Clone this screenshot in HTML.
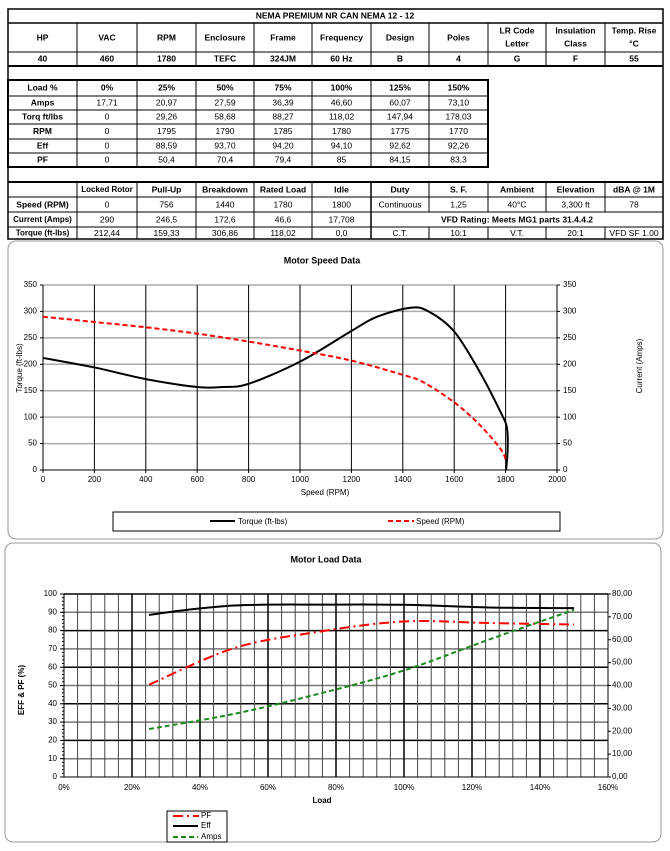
<!DOCTYPE html>
<html><head><meta charset="utf-8"><style>
html,body{margin:0;padding:0;background:#fff;}
svg{display:block;font-family:"Liberation Sans",sans-serif;}
</style></head><body>
<svg id="s" width="670" height="851" viewBox="0 0 670 851" xmlns="http://www.w3.org/2000/svg"></svg>
<script>
const S=document.getElementById('s');let h='';
function L(x1,y1,x2,y2,c,w,d){h+=`<line x1="${x1}" y1="${y1}" x2="${x2}" y2="${y2}" stroke="${c||'#000'}" stroke-width="${w||1}"${d?` stroke-dasharray="${d}"`:''}/>`;}
function T(x,y,t,o){o=o||{};h+=`<text x="${x}" y="${y}" font-size="${o.s||8.5}" ${o.b?'font-weight="bold"':''} text-anchor="${o.a||'middle'}" dominant-baseline="middle"${o.r?` transform="rotate(-90 ${x} ${y})"`:''}>${t}</text>`;}
// ---------- TABLE ----------
const C=[8,77,137,196,254,312,371,429,488,546,605,663];
function cx(i){return (C[i]+C[i+1])/2;}
h+=`<rect x="8" y="9" width="655" height="230" fill="none" stroke="#000" stroke-width="1.5"/>`;
L(8,23,663,23,'#000',1.5);L(8,52,663,52);L(8,66,663,66,'#000',2);
T(335,16,'NEMA PREMIUM NR CAN NEMA 12 - 12',{b:1});
for(let i=1;i<11;i++)L(C[i],23,C[i],66);
const hd=['HP','VAC','RPM','Enclosure','Frame','Frequency','Design','Poles',['LR Code','Letter'],['Insulation','Class'],['Temp. Rise','°C']];
const vl=['40','460','1780','TEFC','324JM','60 Hz','B','4','G','F','55'];
hd.forEach((t,i)=>{if(Array.isArray(t)){T(cx(i),31,t[0],{b:1});T(cx(i),44,t[1],{b:1});}else T(cx(i),38,t,{b:1});T(cx(i),59,vl[i],{b:1});});
const R2=[80,96,110,124,139,153,167];
h+=`<rect x="8" y="80" width="480" height="87" fill="none" stroke="#000" stroke-width="2"/>`;
R2.slice(1,6).forEach(y=>L(8,y,488,y));
for(let i=1;i<8;i++)L(C[i],80,C[i],167);
const b2=[['Load %','0%','25%','50%','75%','100%','125%','150%'],['Amps','17,71','20,97','27,59','36,39','46,60','60,07','73,10'],['Torq ft/lbs','0','29,26','58,68','88,27','118,02','147,94','178,03'],['RPM','0','1795','1790','1785','1780','1775','1770'],['Eff','0','88,59','93,70','94,20','94,10','92,62','92,26'],['PF','0','50,4','70,4','79,4','85','84,15','83,3']];
b2.forEach((r,j)=>{const y=(R2[j]+R2[j+1])/2;r.forEach((t,i)=>T(cx(i),y,t,{b:(i==0||j==0)}));});
L(8,182,663,182,'#000',2);
const R3=[182,197,212,227,239];
[197,212,227].forEach(y=>L(8,y,663,y));
L(371,182,371,239,'#000',1.5);
for(let i=1;i<11;i++){if(i==6)continue; if(i>6){L(C[i],182,C[i],212);L(C[i],227,C[i],239);}else L(C[i],182,C[i],239);}
const b3=[['','Locked Rotor','Pull-Up','Breakdown','Rated Load','Idle','Duty','S. F.','Ambient','Elevation','dBA @ 1M'],
['Speed (RPM)','0','756','1440','1780','1800','Continuous','1,25','40°C','3,300 ft','78'],
['Current (Amps)','290','246,5','172,6','46,6','17,708'],
['Torque (ft-lbs)','212,44','159,33','306,86','118,02','0,0','C.T.','10:1','V.T.','20:1','VFD SF 1.00']];
b3.forEach((r,j)=>{const y=(R3[j]+R3[j+1])/2+0.5;r.forEach((t,i)=>T(cx(i),y,t,{b:(i==0||j==0),s:(t.length>11?8:8.5)}));});
T(517,220,'VFD Rating: Meets MG1 parts 31.4.4.2',{b:1});
function P(pts){let d=`M${pts[0][0]},${pts[0][1]}`;for(let i=0;i<pts.length-1;i++){const p0=pts[i-1]||pts[i],p1=pts[i],p2=pts[i+1],p3=pts[i+2]||p2;d+=` C${p1[0]+(p2[0]-p0[0])/6},${p1[1]+(p2[1]-p0[1])/6} ${p2[0]-(p3[0]-p1[0])/6},${p2[1]-(p3[1]-p1[1])/6} ${p2[0]},${p2[1]}`;}return d;}
// ---------- CHART 1 ----------
h+=`<rect x="8" y="241" width="655" height="298" rx="8" fill="#fff" stroke="#999" stroke-width="1"/>`;
T(322,261,'Motor Speed Data',{b:1,s:9});
const X1=s=>43+s*0.257,Y1=v=>470-v*185/350;
for(let v=50;v<=350;v+=50)L(43,Y1(v),557,Y1(v),'#aaa',1.5);
for(let s=200;s<=1800;s+=200)L(X1(s),285,X1(s),470,'#000',1);
L(43,285,43,470);L(557,285,557,470);L(43,470,557,470);
for(let v=0;v<=350;v+=50){T(37,Y1(v),v,{a:'end',s:8});T(563,Y1(v),v,{a:'start',s:8});L(40,Y1(v),43,Y1(v));L(557,Y1(v),560,Y1(v));}
for(let s=0;s<=2000;s+=200){T(X1(s),480,s,{s:8});L(X1(s),470,X1(s),473);}
T(325,493,'Speed (RPM)',{s:8});
T(20,368,'Torque (ft-lbs)',{s:8,r:1});T(640,366,'Current (Amps)',{s:8,r:1});
const tq=[[0,212],[200,194],[400,172],[600,157],[700,157],[800,163],[1000,205],[1200,263],[1300,290],[1430,307],[1500,300],[1600,262],[1700,185],[1780,110],[1805,80],[1808,40],[1802,0]];
const sp=[[0,290],[200,280],[400,270],[600,258],[800,243],[1000,226],[1200,207],[1400,180],[1480,166],[1600,128],[1700,85],[1780,40],[1800,20]];
h+=`<path d="${P(tq.map(p=>[X1(p[0]),Y1(p[1])]))}" fill="none" stroke="#000" stroke-width="2"/>`;
h+=`<path d="${P(sp.map(p=>[X1(p[0]),Y1(p[1])]))}" fill="none" stroke="#f00" stroke-width="2" stroke-dasharray="5,3"/>`;
h+=`<rect x="113" y="512" width="447" height="19" fill="#fff" stroke="#000" stroke-width="1"/>`;
L(210,521,235,521,'#000',2);T(238,522,'Torque (ft-lbs)',{a:'start',s:8});
L(388,521,414,521,'#f00',2,'5,3');T(416,522,'Speed (RPM)',{a:'start',s:8});
// ---------- CHART 2 ----------
h+=`<rect x="5" y="543" width="656" height="299" rx="8" fill="#fff" stroke="#999" stroke-width="1"/>`;
T(326,560,'Motor Load Data',{b:1,s:9});
const X2=l=>64+l*3.4,Y2=v=>777-v*1.83,YA=a=>777-a*183/80;
for(let v=10;v<=100;v+=10)L(64,Y2(v),608,Y2(v),v%20?'#777':'#000',1.5);
for(let l=4;l<160;l+=4)L(X2(l),594,X2(l),777,(l%20==0)?'#000':'#444',l%20==0?1.5:1);
L(64,594,64,777);L(608,594,608,777);L(64,777,608,777);
for(let v=0;v<=100;v+=2)L(62,Y2(v),64,Y2(v));
for(let v=0;v<=100;v+=10){T(57,Y2(v),v,{a:'end',s:8});L(60,Y2(v),64,Y2(v));}
for(let a=0;a<=80;a+=10){T(612,YA(a),a+',00',{a:'start',s:8});L(608,YA(a),611,YA(a));}
for(let l=0;l<=160;l+=20)T(X2(l),788,l+'%',{s:8});
T(322,801,'Load',{s:8,b:1});
T(22,690,'EFF &amp; PF (%)',{s:8,b:1,r:1});
const ef=[[25,88.59],[37,91.5],[50,93.7],[62,94.2],[75,94.2],[100,94.1],[125,92.62],[150,92.26]];
const pf=[[25,50.4],[50,70.4],[75,79.4],[100,85],[125,84.15],[150,83.3]];
const am=[[25,20.97],[50,27.59],[75,36.39],[100,46.6],[125,60.07],[150,73.1]];
h+=`<path d="${P(ef.map(p=>[X2(p[0]),Y2(p[1])]))}" fill="none" stroke="#000" stroke-width="2"/>`;
h+=`<path d="${P(pf.map(p=>[X2(p[0]),Y2(p[1])]))}" fill="none" stroke="#f00" stroke-width="2" stroke-dasharray="10,4,2,4"/>`;
h+=`<path d="${P(am.map(p=>[X2(p[0]),YA(p[1])]))}" fill="none" stroke="#1a8a1a" stroke-width="2" stroke-dasharray="5,3"/>`;
h+=`<rect x="167" y="811" width="60" height="31" fill="#fff" stroke="#000" stroke-width="1"/>`;
L(173,816,199,816,'#f00',2,'10,4,2,4');T(201,816,'PF',{a:'start',s:8});
L(173,826,198,826,'#000',2);T(201,826,'Eff',{a:'start',s:8});
L(173,837,198,837,'#1a8a1a',2,'5,3');T(201,837,'Amps',{a:'start',s:8});
S.innerHTML=h;
</script>
</body></html>
